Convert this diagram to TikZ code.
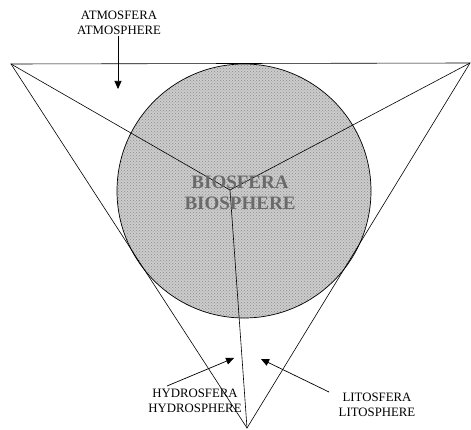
\documentclass[tikz,border=0pt]{standalone}
\usepackage{fontspec}
\setmainfont{Liberation Serif}
\usepackage{tikz}
\usetikzlibrary{positioning,arrows.meta,patterns}
\definecolor{bioGray}{HTML}{6A6A6A}

\begin{document}
\begin{tikzpicture}[x=1pt,y=-1pt,
      label/.style={align=center,font=\fontsize{12.8}{15.5}\selectfont,inner sep=0pt},
      pointer/.style={-{Triangle[length=8pt,width=7pt]},line width=0.7pt},
      edge/.style={line width=0.6pt}]
    \useasboundingbox (0,0) rectangle (471,430);
    % corners of the triangle
    \coordinate (tl) at (11,64);
    \coordinate (tr) at (470,63);
    \coordinate (bt) at (247,428);
    \coordinate (mid) at (230,190);
    % biosphere
    \node[circle,draw,line width=0.7pt,minimum size=254pt,inner sep=0pt,
          preaction={fill=gray!40},pattern=crosshatch dots,pattern color=gray!90] (bio) at (244,191) {};
    \draw[edge] (tl) -- (tr) -- (bt) -- cycle;
    \draw[edge] (tl) -- (mid) -- (tr);
    \draw[edge] (mid) -- (bt);
    \node[font=\fontsize{19}{21}\selectfont\bfseries,text=bioGray,align=center] (biotext) at (240,193) {BIOSFERA\\BIOSPHERE};
    % labels
    \node[label] (atm) at (119,23) {ATMOSFERA\\ATMOSPHERE};
    \node[label] (hyd) at (195,401) {HYDROSFERA\\HYDROSPHERE};
    \node[label] (lit) at (377,405) {LITOSFERA\\LITOSPHERE};
    \coordinate (atmA) at (118,36);
    \coordinate (atmB) at (118,89);
    \coordinate (hydA) at (167,386);
    \coordinate (hydB) at (234,358);
    \coordinate (litA) at (329,392);
    \coordinate (litB) at (261,359);
    \draw[pointer] (atmA) -- (atmB);
    \draw[pointer] (hydA) -- (hydB);
    \draw[pointer] (litA) -- (litB);
  \end{tikzpicture}
\end{document}
